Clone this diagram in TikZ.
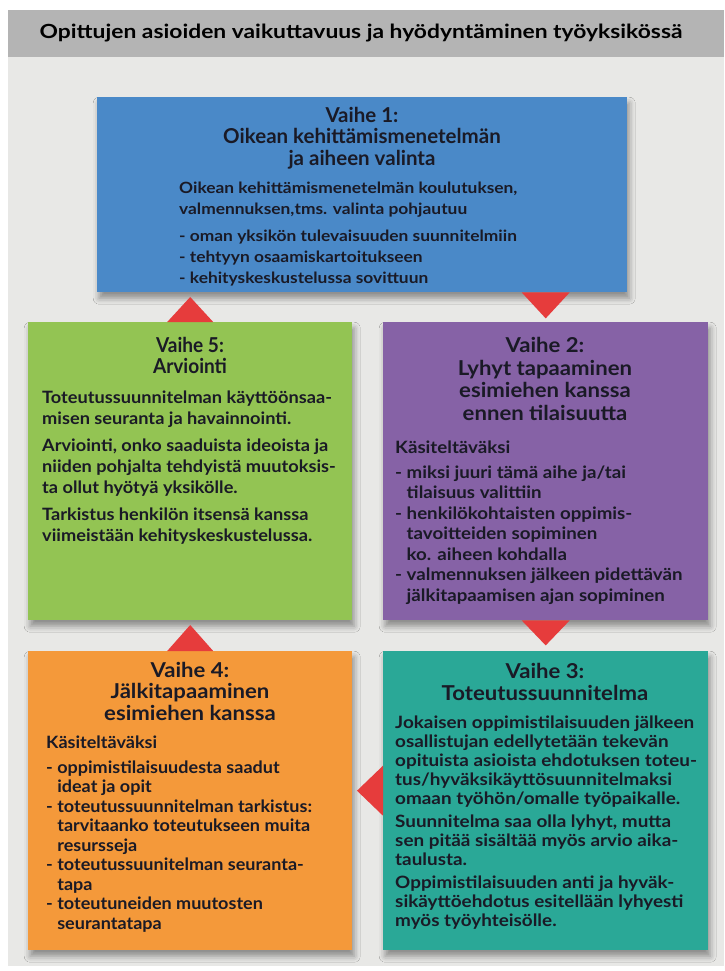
\documentclass[tikz,border=0pt]{standalone}
\usepackage{fontspec}
\setmainfont{Lato}
\newfontfamily\fhead{Lato}[FakeStretch=1.17]
\newfontfamily\fttl{Lato}[FakeStretch=1.08]
\newfontfamily\fttlg{Lato}[FakeStretch=0.93]
\newfontfamily\fblue{Lato}[FakeStretch=1.12]
\newfontfamily\fgreen{Lato}[FakeStretch=1.07]
\newfontfamily\fpurple{Lato}[FakeStretch=1.10]
\newfontfamily\forange{Lato}[FakeStretch=1.06]
\newfontfamily\fteal{Lato}[FakeStretch=1.11]
\usetikzlibrary{shadows.blur}
\definecolor{bandgray}{HTML}{B4B4B4}
\definecolor{panelgray}{HTML}{E8E8E6}
\definecolor{c1}{HTML}{4A89C8}
\definecolor{c2}{HTML}{8662A6}
\definecolor{c3}{HTML}{2AA897}
\definecolor{c4}{HTML}{F4993A}
\definecolor{c5}{HTML}{93C453}
\definecolor{trired}{HTML}{E63C3C}
\definecolor{ink}{HTML}{1A1A26}
\newcommand{\hind}{\phantom{- }}
\begin{document}
\begin{tikzpicture}[x=1pt,y=-1pt,
  box/.style={draw=none, inner sep=0pt, anchor=north west,
    blur shadow={shadow xshift=2pt, shadow yshift=-6pt, shadow blur radius=6pt, shadow opacity=40}},
  ttl/.style={anchor=north, align=center, inner sep=0pt, text=ink,
    font=\fttl\bfseries\fontsize{20.5}{22}\selectfont},
  bdy/.style={anchor=north west, align=left, inner sep=0pt, text=ink},
  tri/.style={fill=trired}]
\useasboundingbox (0,0) rectangle (724,971);
\fill[white] (0,0) rectangle (724,971);
\fill[panelgray] (8,57) rectangle (724,966);
\fill[bandgray] (8,10) rectangle (724,57);
\node[text=black, inner sep=0pt, font=\fhead\bfseries\fontsize{19.5}{22}\selectfont] (head) at (361,33)
  {Opittujen asioiden vaikuttavuus ja hyödyntäminen työyksikössä};

% boxes
\node[box, fill=c1, minimum width=530pt, minimum height=195pt] (b1) at (97,97) {};
\node[box, fill=c5, minimum width=324pt, minimum height=298pt] (b5) at (28,322) {};
\node[box, fill=c2, minimum width=325pt, minimum height=298pt] (b2) at (383,322) {};
\node[box, fill=c4, minimum width=324pt, minimum height=299pt] (b4) at (28,651) {};
\node[box, fill=c3, minimum width=325pt, minimum height=299pt] (b3) at (383,651) {};

% Vaihe 1
\node[ttl, font=\bfseries\fontsize{20.5}{21.5}\selectfont] (t1) at (362,107) {Vaihe 1:\\Oikean kehittämismenetelmän\\ja aiheen valinta};
\node[bdy, font=\fblue\bfseries\fontsize{15.5}{21}\selectfont] (x1) at (179,181.7) {Oikean kehittämismenetelmän koulutuksen,\\
valmennuksen,tms. valinta pohjautuu\\[6pt]
- oman yksikön tulevaisuuden suunnitelmiin\\
- tehtyyn osaamiskartoitukseen\\
- kehityskeskustelussa sovittuun};

% Vaihe 5
\node[ttl, font=\fttlg\bfseries\fontsize{20.5}{21}\selectfont] (t5) at (190,337) {Vaihe 5:\\Arviointi};
\node[bdy, font=\fgreen\bfseries\fontsize{17}{21}\selectfont] (x5) at (42,390.6) {Toteutussuunnitelman käyttöönsaa-\\
misen seuranta ja havainnointi.\\[6pt]
Arviointi, onko saaduista ideoista ja\\
niiden pohjalta tehdyistä muutoksis-\\
ta ollut hyötyä yksikölle.\\[6pt]
Tarkistus henkilön itsensä kanssa\\
viimeistään kehityskeskustelussa.};

% Vaihe 2
\node[ttl, font=\fttl\bfseries\fontsize{20.5}{22.7}\selectfont] (t2) at (545,337) {Vaihe 2:\\Lyhyt tapaaminen\\esimiehen kanssa\\ennen tilaisuutta};
\node[bdy, font=\fpurple\bfseries\fontsize{17}{20.5}\selectfont] (x2) at (395,440.6) {Käsiteltäväksi\\[4.5pt]
- miksi juuri tämä aihe ja/tai\\
\hind tilaisuus valittiin\\
- henkilökohtaisten oppimis-\\
\hind tavoitteiden sopiminen\\
\hind ko. aiheen kohdalla\\
- valmennuksen jälkeen pidettävän\\
\hind jälkitapaamisen ajan sopiminen};

% Vaihe 4
\node[ttl, font=\fttl\bfseries\fontsize{20.5}{21.5}\selectfont] (t4) at (190,662) {Vaihe 4:\\Jälkitapaaminen\\esimiehen kanssa};
\node[bdy, font=\forange\bfseries\fontsize{17}{19.5}\selectfont] (x4) at (46,735.6) {Käsiteltäväksi\\[5.5pt]
- oppimistilaisuudesta saadut\\
\hind ideat ja opit\\
- toteutussuunnitelman tarkistus:\\
\hind tarvitaanko toteutukseen muita\\
\hind resursseja\\
- toteutussuunitelman seuranta-\\
\hind tapa\\
- toteutuneiden muutosten\\
\hind seurantatapa};

% Vaihe 3
\node[ttl, font=\fttl\bfseries\fontsize{20.5}{22}\selectfont] (t3) at (545,663) {Vaihe 3:\\Toteutussuunnitelma};
\node[bdy, font=\fteal\bfseries\fontsize{17}{19}\selectfont] (x3) at (395,715.6) {Jokaisen oppimistilaisuuden jälkeen\\
osallistujan edellytetään tekevän\\
opituista asioista ehdotuksen toteu-\\
tus/hyväksikäyttösuunnitelmaksi\\
omaan työhön/omalle työpaikalle.\\[4pt]
Suunnitelma saa olla lyhyt, mutta\\
sen pitää sisältää myös arvio aika-\\
taulusta.\\[4pt]
Oppimistilaisuuden anti ja hyväk-\\
sikäyttöehdotus esitellään lyhyesti\\
myös työyhteisölle.};

% triangles
\coordinate (p12) at (b2.north |- b1.south);
\fill[tri] ([xshift=-23pt]b5.north) -- ([xshift=23pt]b5.north) -- ([yshift=25pt]b5.north) -- cycle;
\fill[tri] ([xshift=-24pt]p12) -- ([xshift=24pt]p12) -- ([yshift=-26pt]p12) -- cycle;
\fill[tri] ([xshift=-24pt]b2.south) -- ([xshift=24pt]b2.south) -- ([yshift=-25pt]b2.south) -- cycle;
\coordinate (p34) at ([yshift=10pt]b3.west);
\fill[tri] ([yshift=25pt]p34) -- ([yshift=-25pt]p34) -- ([xshift=-26pt]p34) -- cycle;
\fill[tri] ([xshift=-23pt]b4.north) -- ([xshift=23pt]b4.north) -- ([yshift=26pt]b4.north) -- cycle;
\end{tikzpicture}
\end{document}
